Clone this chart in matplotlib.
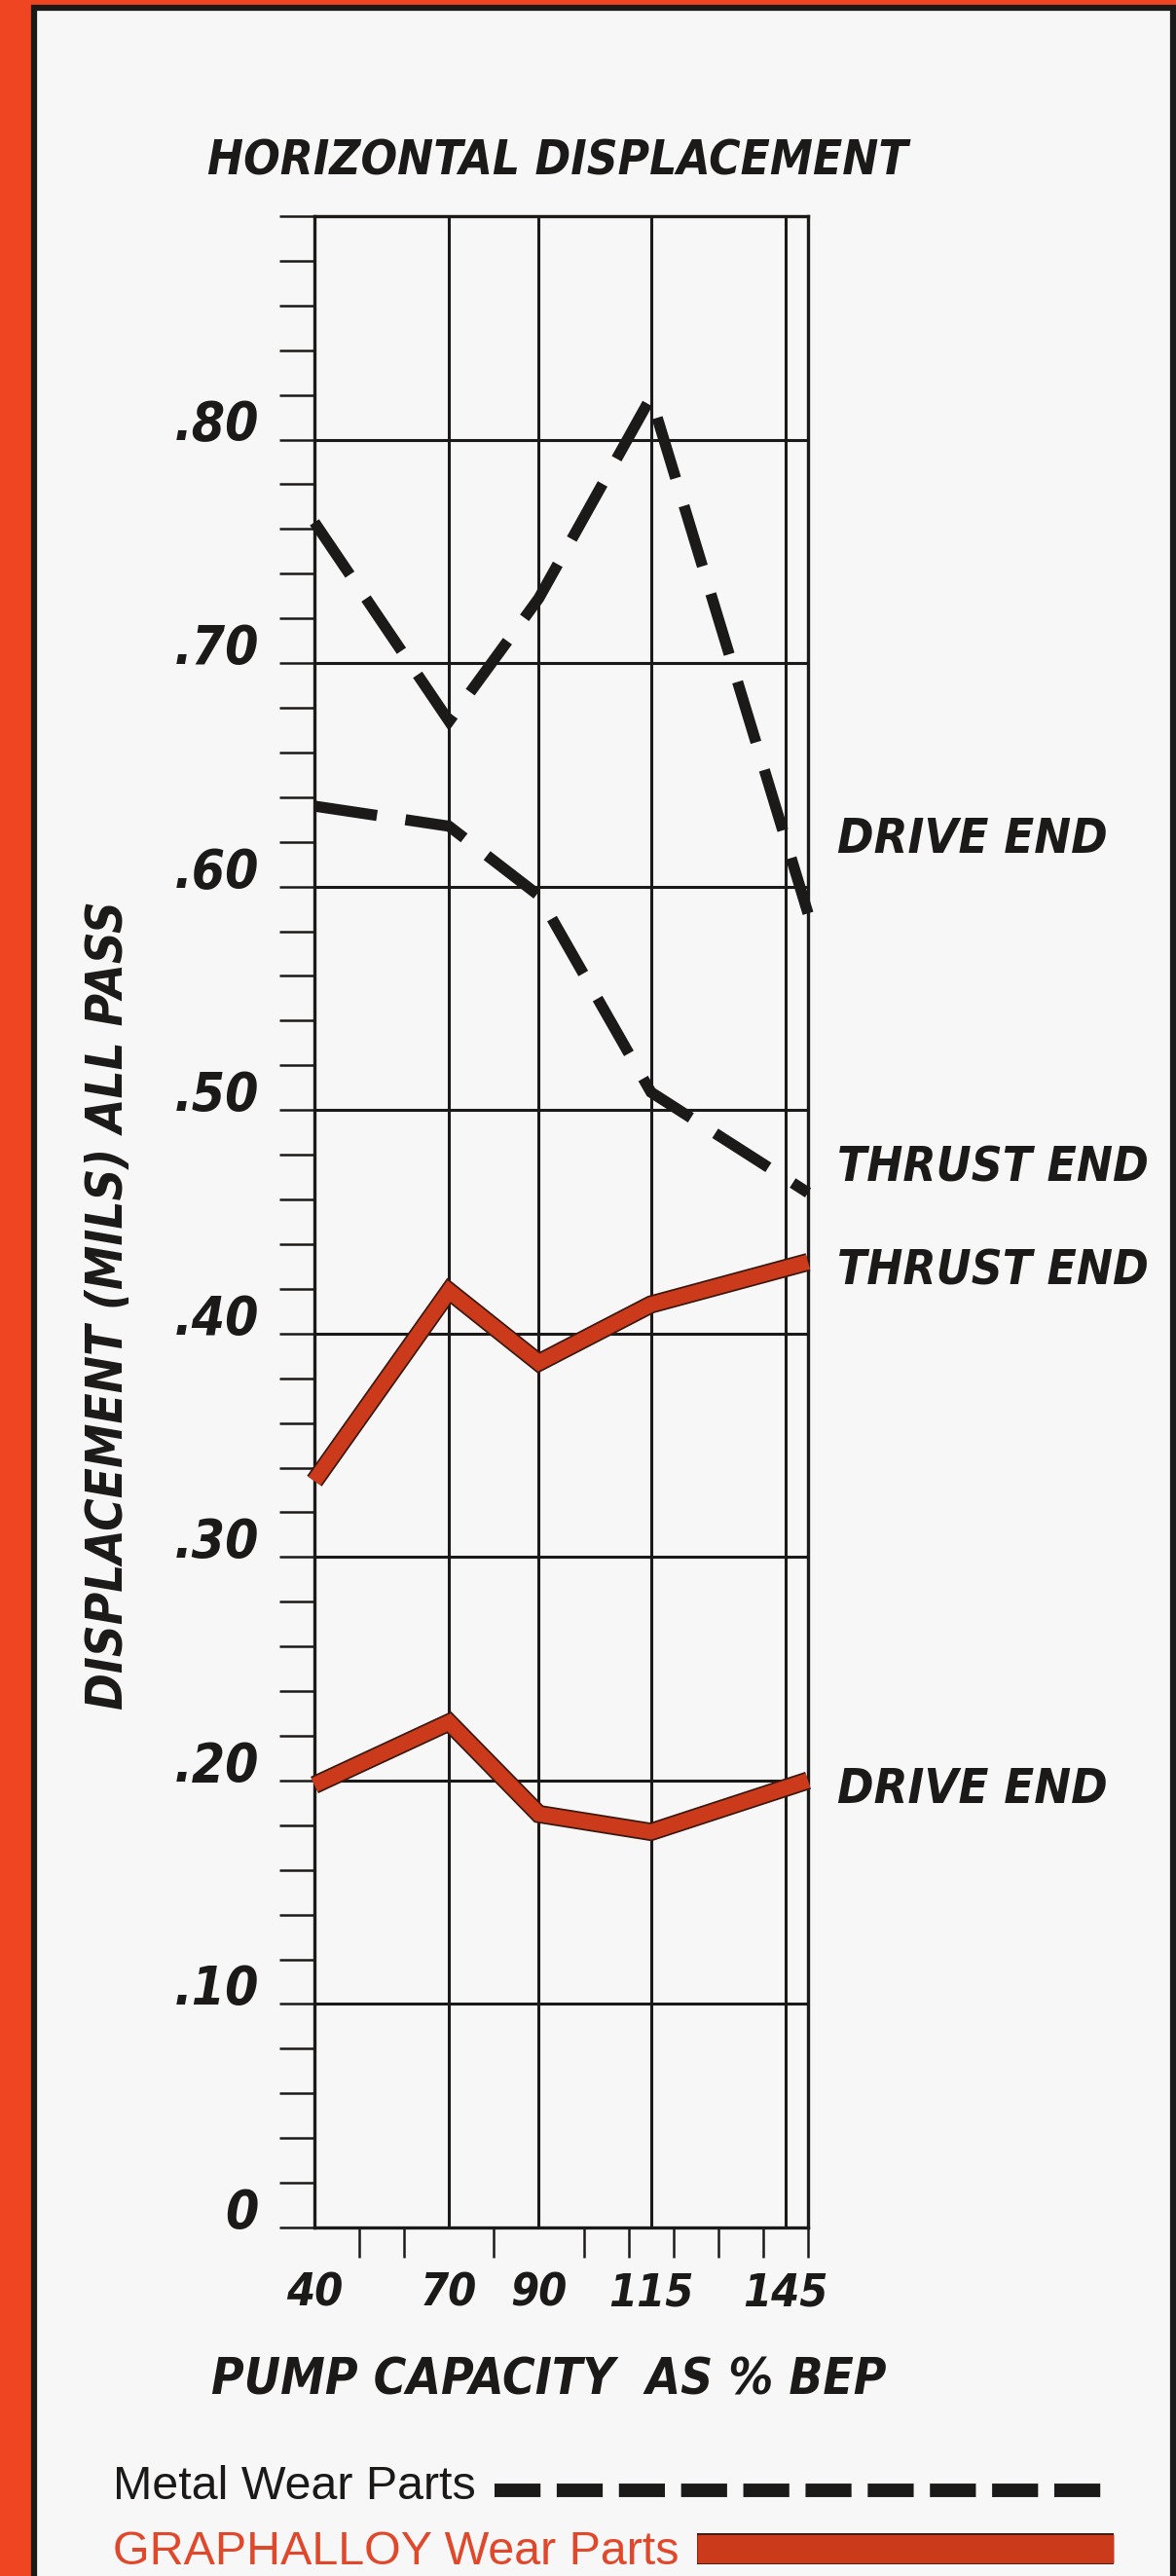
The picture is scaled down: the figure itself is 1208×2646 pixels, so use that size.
import numpy as np
import matplotlib
matplotlib.use("Agg")
import matplotlib.pyplot as plt
import matplotlib.patheffects as pe
from matplotlib.lines import Line2D
from matplotlib.patches import Rectangle
from matplotlib.transforms import ScaledTranslation

# ── data ──────────────────────────────────────────────────────────────────────
# last point sits on the right frame, just past the 145 % column
capacity = [40, 70, 90, 115, 150]
metal_drive = [0.763, 0.674, 0.729, 0.819, 0.588]
metal_thrust = [0.636, 0.627, 0.596, 0.508, 0.463]
graph_thrust = [0.334, 0.419, 0.387, 0.413, 0.432]
graph_drive = [0.198, 0.226, 0.185, 0.177, 0.200]

x_tick_pos = [40, 70, 90, 115, 145]
x_tick_labels = ["40", "70", "90", "115", "145"]
x_grid = [70, 90, 115, 145]
x_minor = [50, 60, 70, 80, 90, 100, 110, 120, 130, 140, 150]
y_major = [0, 0.1, 0.2, 0.3, 0.4, 0.5, 0.6, 0.7, 0.8]
y_labels = ["0", ".10", ".20", ".30", ".40", ".50", ".60", ".70", ".80"]

ORANGE = "#f04522"
RED = "#cc3a1c"
BG = "#f8f7f8"
INK = "#1c1a18"

W, H = 1208, 2646
DPI = 100
NARROW = ["Liberation Sans Narrow", "DejaVu Sans"]
REGULAR = ["Liberation Sans", "DejaVu Sans"]
big = dict(family=NARROW, weight="bold", style="italic", stretch="condensed", color=INK)


def fx(px):
    return px / W


def fy(py):
    return 1 - py / H


def fit(t, target, vertical=False):
    """Scale a text's size so it spans `target` pixels."""
    bb = t.get_window_extent(fig.canvas.get_renderer())
    cur = bb.height if vertical else bb.width
    t.set_fontsize(t.get_fontsize() * target / cur)
    return t.get_fontsize()


fig = plt.figure(figsize=(W / DPI, H / DPI), dpi=DPI)
fig.patch.set_facecolor(ORANGE)
fig.add_artist(Rectangle((fx(35), fy(H + 20)), fx(W - 38), (H + 12) / H, transform=fig.transFigure,
                         facecolor=BG, edgecolor=INK, linewidth=4.5, zorder=0))

ax = fig.add_axes([fx(323), fy(2288), fx(830 - 323), (2288 - 222) / H])
ax.set_facecolor(BG)
ax.set_xlim(40, 150)
ax.set_ylim(0, 0.9)

# ── grid / frame ──────────────────────────────────────────────────────────────
for y in y_major[1:]:
    ax.axhline(y, color=INK, lw=2.2, zorder=1)
for x in x_grid:
    ax.axvline(x, color=INK, lw=2.2, zorder=1)
for s in ax.spines.values():
    s.set_color(INK)
    s.set_linewidth(2.4)

# tick label sizes from the digit heights (~40 px and ~33 px)
ysize = 40 / 0.729 * 72 / DPI
xsize = 34 / 0.729 * 72 / DPI

ax.set_yticks(y_major)
ax.set_yticklabels(y_labels)
ax.set_yticks(np.arange(0, 0.91, 0.02), minor=True)
ax.tick_params(axis="y", which="both", direction="out", length=26, width=1.8, color=INK, pad=15)
for lab in ax.get_yticklabels():
    lab.set(fontfamily=NARROW, fontweight="bold", fontstyle="italic", fontstretch="condensed",
            fontsize=ysize, color=INK)
    lab.set_transform(lab.get_transform() + ScaledTranslation(0, 20 / DPI, fig.dpi_scale_trans))

ax.set_xticks(x_tick_pos)
ax.set_xticklabels(x_tick_labels)
ax.set_xticks(x_minor, minor=True)
ax.tick_params(axis="x", which="major", length=0, pad=33)
ax.tick_params(axis="x", which="minor", direction="out", length=22, width=1.8, color=INK)
for lab in ax.get_xticklabels():
    lab.set(fontfamily=NARROW, fontweight="bold", fontstyle="italic", fontstretch="condensed",
            fontsize=xsize, color=INK)

# ── series ────────────────────────────────────────────────────────────────────
red_fx = [pe.Stroke(linewidth=13.5, foreground="#3a1810"), pe.Normal()]
for ys in (metal_drive, metal_thrust):
    ax.plot(capacity, ys, color=INK, lw=8.2, linestyle=(0, (5.7, 2.6)),
            dash_capstyle="butt", dash_joinstyle="miter", zorder=3, clip_on=False)
for ys in (graph_thrust, graph_drive):
    ax.plot(capacity, ys, color=RED, lw=11, solid_joinstyle="miter",
            solid_capstyle="butt", path_effects=red_fx, zorder=3, clip_on=False)

# ── text ──────────────────────────────────────────────────────────────────────
title = fig.text(fx(573), fy(180), "HORIZONTAL DISPLACEMENT", ha="center", va="baseline",
                 fontsize=40, **big)
fit(title, 720)
xlab = fig.text(fx(564), fy(2459), "PUMP CAPACITY  AS % BEP", ha="center", va="baseline",
                fontsize=40, **big)
fit(xlab, 692)
ylab = fig.text(fx(112), fy(1341), "DISPLACEMENT (MILS) ALL PASS", ha="center", va="center",
                rotation=90, fontsize=40, **big)
fit(ylab, 830, vertical=True)

end_labels = [("DRIVE END", 876, 278), ("THRUST END", 1213, 320),
              ("THRUST END", 1320, 320), ("DRIVE END", 1852, 278)]
for txt, base, wd in end_labels:
    t = fig.text(fx(860), fy(base), txt, ha="left", va="baseline", fontsize=40, **big)
    fit(t, wd)

# ── legend ────────────────────────────────────────────────────────────────────
leg1 = fig.text(fx(116), fy(2567), "Metal Wear Parts", ha="left", va="baseline",
                fontsize=35, family=REGULAR, color=INK)
fit(leg1, 373)
leg2 = fig.text(fx(116), fy(2634), "GRAPHALLOY Wear Parts", ha="left", va="baseline",
                fontsize=35, family=REGULAR, color="#e0482c")
fit(leg2, 581)
fig.add_artist(Line2D([fx(508), fx(1146)], [fy(2558), fy(2558)], transform=fig.transFigure,
                      color=INK, lw=10, linestyle=(0, (3.4, 1.2)), dash_capstyle="butt"))
fig.add_artist(Line2D([fx(716), fx(1144)], [fy(2618), fy(2618)], transform=fig.transFigure,
                      color=RED, lw=21, solid_capstyle="butt",
                      path_effects=[pe.Stroke(linewidth=23, foreground="#3a1810"), pe.Normal()]))

fig.savefig("out.png", dpi=DPI, facecolor=fig.get_facecolor())
